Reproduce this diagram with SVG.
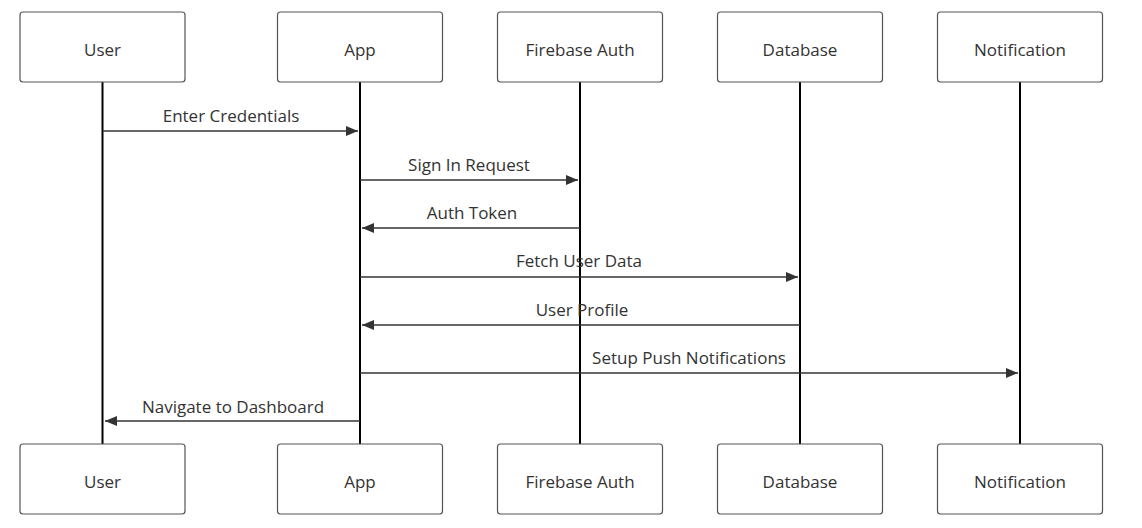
<svg xmlns="http://www.w3.org/2000/svg" width="1142" height="528" viewBox="0 0 1142 528">
<style>
.box{fill:#fff;stroke:#555;stroke-width:1.2}
.lbl{font-family:"Open Sans","DejaVu Sans",sans-serif;font-size:17px;fill:#333;text-anchor:middle;dominant-baseline:central}
.life{stroke:#000;stroke-width:2}
.msg{stroke:#333;stroke-width:1.5;fill:none;marker-end:url(#ah)}
.mtxt{font-family:"Open Sans","DejaVu Sans",sans-serif;font-size:17px;fill:#333;text-anchor:middle}
</style>
<defs>
<marker id="ah" viewBox="0 0 12 10" refX="12" refY="5" markerWidth="12" markerHeight="10" markerUnits="userSpaceOnUse" orient="auto">
<path d="M0,0 L12,5 L0,10 Z" fill="#333"/>
</marker>
</defs>
<g id="lifelines">
<line class="life" x1="102.5" y1="82" x2="102.5" y2="444"/>
<line class="life" x1="360" y1="82" x2="360" y2="444"/>
<line class="life" x1="580" y1="82" x2="580" y2="444"/>
<line class="life" x1="800" y1="82" x2="800" y2="444"/>
<line class="life" x1="1020" y1="82" x2="1020" y2="444"/>
</g>
<g id="user-top"><rect class="box" x="20" y="12" width="165" height="70" rx="3"/><text class="lbl" x="102.5" y="49">User</text></g>
<g id="app-top"><rect class="box" x="277.5" y="12" width="165" height="70" rx="3"/><text class="lbl" x="360" y="49">App</text></g>
<g id="fb-top"><rect class="box" x="497.5" y="12" width="165" height="70" rx="3"/><text class="lbl" x="580" y="49">Firebase Auth</text></g>
<g id="db-top"><rect class="box" x="717.5" y="12" width="165" height="70" rx="3"/><text class="lbl" x="800" y="49">Database</text></g>
<g id="notif-top"><rect class="box" x="937.5" y="12" width="165" height="70" rx="3"/><text class="lbl" x="1020" y="49">Notification</text></g>
<g id="user-bottom"><rect class="box" x="20" y="444" width="165" height="70" rx="3"/><text class="lbl" x="102.5" y="481">User</text></g>
<g id="app-bottom"><rect class="box" x="277.5" y="444" width="165" height="70" rx="3"/><text class="lbl" x="360" y="481">App</text></g>
<g id="fb-bottom"><rect class="box" x="497.5" y="444" width="165" height="70" rx="3"/><text class="lbl" x="580" y="481">Firebase Auth</text></g>
<g id="db-bottom"><rect class="box" x="717.5" y="444" width="165" height="70" rx="3"/><text class="lbl" x="800" y="481">Database</text></g>
<g id="notif-bottom"><rect class="box" x="937.5" y="444" width="165" height="70" rx="3"/><text class="lbl" x="1020" y="481">Notification</text></g>
<g id="messages">
<line class="msg" x1="103" y1="131" x2="358" y2="131"/>
<text class="mtxt" x="231" y="122">Enter Credentials</text>
<line class="msg" x1="360" y1="180" x2="578" y2="180"/>
<text class="mtxt" x="469" y="171">Sign In Request</text>
<line class="msg" x1="580" y1="228" x2="362" y2="228"/>
<text class="mtxt" x="472" y="219">Auth Token</text>
<line class="msg" x1="360" y1="277" x2="798" y2="277"/>
<text class="mtxt" x="579" y="267">Fetch User Data</text>
<line class="msg" x1="800" y1="325" x2="362" y2="325"/>
<text class="mtxt" x="582" y="316">User Profile</text>
<line class="msg" x1="360" y1="373" x2="1018" y2="373"/>
<text class="mtxt" x="689" y="364">Setup Push Notifications</text>
<line class="msg" x1="360" y1="421" x2="105" y2="421"/>
<text class="mtxt" x="233" y="413">Navigate to Dashboard</text>
</g>
</svg>
